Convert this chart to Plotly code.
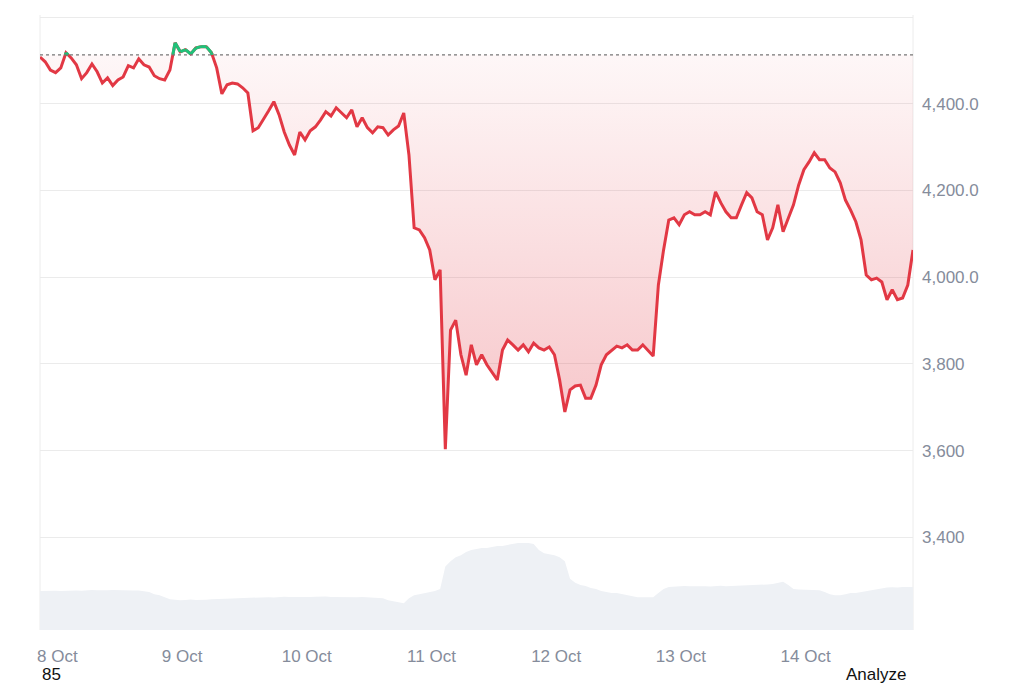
import numpy as np
import pandas as pd
import plotly.graph_objects as go

# ---------------- data ----------------
start_time = "2025-10-07 20:40"
n_points = 169  # hourly points over 7 days

prices = [
    4508, 4497, 4478, 4472, 4483, 4518, 4506, 4490, 4458, 4472,
    4492, 4474, 4448, 4460, 4442, 4455, 4462, 4488, 4483, 4504,
    4490, 4485, 4465, 4458, 4455, 4478, 4541, 4520, 4525, 4515,
    4529, 4532, 4532, 4518, 4483, 4423, 4444, 4448, 4446, 4437,
    4425, 4338, 4345, 4363, 4384, 4405, 4375, 4335, 4305, 4282,
    4335, 4317, 4338, 4347, 4363, 4382, 4372, 4391, 4379, 4368,
    4386, 4347, 4368, 4345, 4333, 4347, 4345, 4328, 4340, 4349,
    4379, 4282, 4114, 4109, 4091, 4063, 3994, 4017, 3603, 3878,
    3901, 3821, 3774, 3844, 3798, 3821, 3798, 3781, 3763, 3832,
    3855, 3844, 3832, 3844, 3828, 3848, 3837, 3832, 3839, 3821,
    3763, 3689, 3740, 3749, 3751, 3721, 3721, 3751, 3798, 3821,
    3832, 3841, 3837, 3844, 3832, 3832, 3844, 3832, 3818, 3982,
    4063, 4132, 4137, 4121, 4144, 4151, 4144, 4144, 4151, 4144,
    4197, 4172, 4151, 4137, 4137, 4167, 4195, 4183, 4151, 4144,
    4086, 4114, 4167, 4105, 4137, 4167, 4213, 4248, 4266, 4287,
    4271, 4271, 4252, 4243, 4218, 4178, 4155, 4128, 4086, 4005,
    3994, 3998, 3989, 3948, 3971, 3948, 3952, 3982, 4063,
]

volumes = [
    38.0, 38.2, 38.5, 38.3, 38.0, 38.4, 38.6, 38.5, 38.2, 38.8,
    39.0, 38.7, 38.5, 38.9, 39.1, 38.8, 38.6, 38.4, 38.6, 38.5, 38.0,
    37, 35, 34, 32, 30,
    29.5, 29.0, 29.3, 29.8, 29.2, 29.0, 29.4, 29.9, 30.3, 30.0, 30.5, 30.8, 31.0, 31.2, 30.9, 31.3,
    31.5, 31.8, 32.0, 31.6, 32.2, 32.5, 32.3, 32.1, 32.6, 32.4, 32.2, 32.5, 32.8, 32.6, 32.3,
    32.1, 32.5, 32.4, 32.2, 32.0, 32.3, 32.1, 31.8, 31.5, 31.0,
    29, 28, 27, 26,
    31, 34, 35, 36, 37, 38, 40,
    62, 67, 71, 73, 76, 78, 79, 80, 80, 81, 82, 82, 83, 84, 85, 85, 85, 84,
    78, 75, 74, 73, 71, 67,
    50, 46, 44, 43, 41, 40, 38, 37, 36, 36, 35, 34, 33, 32, 32, 32, 32,
    36, 40, 42,
    42.5, 42.8, 43.0, 42.6, 42.9, 43.2, 42.8, 42.5, 42.9, 43.1, 42.7, 42.9, 43.2,
    43.5, 43.8, 44.0, 43.6, 44.2, 44.5, 45.0,
    46, 47, 44, 40,
    39.5, 39.2, 39.0, 39.3, 38.8,
    37, 35, 34, 34, 35, 36, 36, 37, 38, 39, 40, 41,
    41.5, 41.8, 41.5, 42.0, 42.2, 42.0,
]

open_price = 4513

tick_dates = ["2025-10-08", "2025-10-09", "2025-10-10", "2025-10-11",
              "2025-10-12", "2025-10-13", "2025-10-14"]
tick_labels = ["8 Oct", "9 Oct", "10 Oct", "11 Oct", "12 Oct", "13 Oct", "14 Oct"]

price_ticks = [3400, 3600, 3800, 4000, 4200, 4400, 4600]
price_tick_labels = ["3,400", "3,600", "3,800", "4,000.0", "4,200.0", "4,400.0", ""]

assert len(prices) == n_points and len(volumes) == n_points

# ---------------- derived ----------------
times = pd.date_range(start_time, periods=n_points, freq="h")
p = np.array(prices, dtype=float)

RED = "#e23844"
GREEN = "#1fc27a"

# green (above open) segments with crossing points
gx, gy = [], []
for i in range(n_points - 1):
    a, b = p[i], p[i + 1]
    ta, tb = times[i], times[i + 1]
    if a < open_price and b < open_price:
        continue
    if a >= open_price and b >= open_price:
        seg = [(ta, a), (tb, b)]
    elif a >= open_price:
        f = (a - open_price) / (a - b)
        seg = [(ta, a), (ta + (tb - ta) * f, open_price)]
    else:
        f = (open_price - a) / (b - a)
        seg = [(ta + (tb - ta) * f, open_price), (tb, b)]
    for t, v in seg:
        gx.append(t)
        gy.append(v)
    gx.append(None)
    gy.append(None)

fig = go.Figure()

# volume area (secondary hidden axis)
fig.add_trace(go.Scatter(
    x=times, y=volumes, yaxis="y2", mode="lines",
    line=dict(width=0, color="#eef1f5"), fill="tozeroy", fillcolor="#eef1f5",
    hoverinfo="skip"))

# baseline for fill
fig.add_trace(go.Scatter(
    x=times, y=[open_price] * n_points, mode="lines",
    line=dict(width=0), hoverinfo="skip"))
fig.add_trace(go.Scatter(
    x=times, y=np.minimum(p, open_price), mode="lines",
    line=dict(width=0), fill="tonexty",
    fillgradient=dict(type="vertical",
                      colorscale=[[0, "rgba(226,56,68,0.30)"], [1, "rgba(226,56,68,0.04)"]],
                      start=3600, stop=open_price),
    hoverinfo="skip"))

# price line
fig.add_trace(go.Scatter(x=times, y=p, mode="lines",
                         line=dict(color=RED, width=3)))
fig.add_trace(go.Scatter(x=gx, y=gy, mode="lines",
                         line=dict(color=GREEN, width=3), connectgaps=False))

fig.add_shape(type="line", xref="paper", yref="y", x0=0, x1=1,
              y0=open_price, y1=open_price,
              line=dict(color="#777777", width=1.2, dash="dot"))
for xp in (0, 1):
    fig.add_shape(type="line", xref="paper", yref="paper", x0=xp, x1=xp, y0=0, y1=1,
                  line=dict(color="#ececec", width=1), layer="below")

fig.add_annotation(text="85", xref="paper", yref="paper", x=0, y=-0.072,
                   xanchor="left", yanchor="middle", showarrow=False,
                   font=dict(color="#111111", size=17))
fig.add_annotation(text="Analyze", xref="paper", yref="paper", x=0.994, y=-0.072,
                   xanchor="right", yanchor="middle", showarrow=False,
                   font=dict(color="#111111", size=17))

fig.update_layout(
    width=1024, height=683,
    margin=dict(l=40, r=111, t=15, b=53),
    paper_bgcolor="white", plot_bgcolor="white",
    showlegend=False,
    font=dict(family="Liberation Sans, Arial, sans-serif", size=17, color="#858c9b"),
    xaxis=dict(type="date", range=[times[0], times[-1]],
               tickvals=tick_dates, ticktext=tick_labels,
               showgrid=False, zeroline=False, showline=False, ticks="",
               ticklabelstandoff=14),
    yaxis=dict(side="right", range=[3186, 4605],
               tickvals=price_ticks, ticktext=price_tick_labels,
               showgrid=True, gridcolor="#ebebeb", gridwidth=1,
               zeroline=False, showline=False, ticks="", ticklabelstandoff=8),
    yaxis2=dict(overlaying="y", range=[0, 600], visible=False),
)

fig.write_html("out.html", config={"displayModeBar": False},
               post_script="document.body.style.margin='0';document.body.style.overflow='hidden';")
